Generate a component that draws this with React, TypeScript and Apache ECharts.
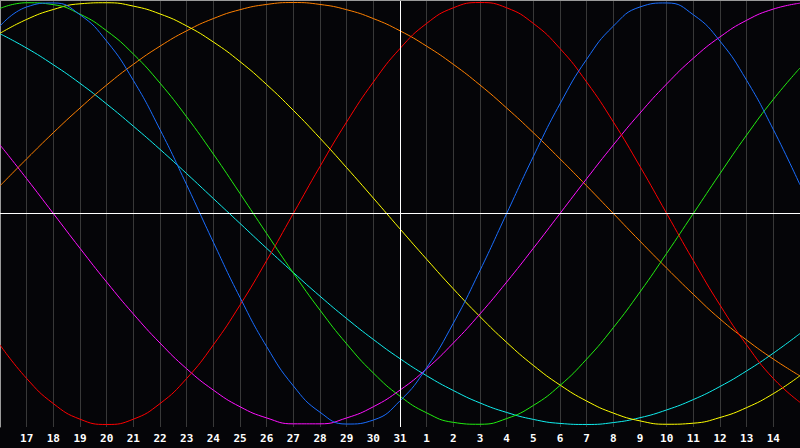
import React, { useEffect, useRef } from "react";
import * as echarts from "echarts";

const days = [
  "16", "17", "18", "19", "20", "21", "22", "23", "24", "25", "26", "27", "28", "29", "30", "31",
  "1", "2", "3", "4", "5", "6", "7", "8", "9", "10", "11", "12", "13", "14", "15",
];

const red = [
  -0.623, -0.782, -0.901, -0.975, -1.0, -0.975, -0.901, -0.782, -0.623, -0.434, -0.223, 0.0,
  0.223, 0.434, 0.623, 0.782, 0.901, 0.975, 1.0, 0.975, 0.901, 0.782, 0.623, 0.434, 0.223, 0.0,
  -0.223, -0.434, -0.623, -0.782, -0.895,
];
const orange = [
  0.131, 0.259, 0.383, 0.5, 0.609, 0.707, 0.793, 0.866, 0.924, 0.966, 0.991, 1.0, 0.991, 0.966,
  0.924, 0.866, 0.793, 0.707, 0.609, 0.5, 0.383, 0.259, 0.131, 0.0, -0.131, -0.259, -0.383, -0.5,
  -0.6, -0.69, -0.77,
];
const yellow = [
  0.854, 0.92, 0.967, 0.994, 0.999, 0.983, 0.946, 0.889, 0.813, 0.72, 0.611, 0.489, 0.357, 0.217,
  0.073, -0.073, -0.217, -0.357, -0.489, -0.611, -0.72, -0.813, -0.889, -0.946, -0.983, -0.999,
  -0.994, -0.967, -0.92, -0.854, -0.769,
];
const green = [
  0.972, 0.999, 0.99, 0.945, 0.866, 0.756, 0.618, 0.458, 0.282, 0.095, -0.095, -0.282, -0.458,
  -0.618, -0.756, -0.866, -0.945, -0.99, -0.999, -0.972, -0.91, -0.815, -0.69, -0.541, -0.372,
  -0.189, 0.0, 0.189, 0.372, 0.541, 0.69,
];
const cyan = [
  0.852, 0.784, 0.705, 0.617, 0.519, 0.414, 0.304, 0.189, 0.071, -0.047, -0.165, -0.28, -0.392,
  -0.498, -0.597, -0.688, -0.769, -0.839, -0.898, -0.943, -0.976, -0.995, -1.0, -0.991, -0.968,
  -0.931, -0.882, -0.82, -0.746, -0.662, -0.569,
];
const blue = [
  0.888, 0.979, 0.998, 0.942, 0.817, 0.631, 0.398, 0.136, -0.136, -0.398, -0.631, -0.817, -0.942,
  -0.998, -0.979, -0.888, -0.731, -0.52, -0.27, 0.0, 0.27, 0.52, 0.731, 0.888, 0.979, 0.998,
  0.942, 0.817, 0.631, 0.398, 0.136,
];
const magenta = [
  0.325, 0.165, 0.0, -0.165, -0.325, -0.476, -0.614, -0.736, -0.837, -0.916, -0.969, -0.997,
  -0.997, -0.969, -0.916, -0.837, -0.736, -0.614, -0.476, -0.325, -0.165, 0.0, 0.165, 0.325,
  0.476, 0.614, 0.736, 0.837, 0.916, 0.969, 0.997,
];

const todayIndex = 15;

const curves: { name: string; data: number[]; color: string }[] = [
  { name: "cyan", data: cyan, color: "#11eeee" },
  { name: "orange", data: orange, color: "#ff8000" },
  { name: "yellow", data: yellow, color: "#ffff00" },
  { name: "green", data: green, color: "#22ee11" },
  { name: "magenta", data: magenta, color: "#ff11ff" },
  { name: "red", data: red, color: "#ff0000" },
  { name: "blue", data: blue, color: "#1a6eff" },
];

export default function App() {
  const ref = useRef<HTMLDivElement>(null);

  useEffect(() => {
    if (!ref.current) return;
    const chart = echarts.init(ref.current, undefined, { renderer: "svg" });
    const series: any[] = curves.map((c) => ({
      type: "line",
      name: c.name,
      data: c.data,
      smooth: 0.5,
      symbol: "none",
      lineStyle: { color: c.color, width: 1 },
      itemStyle: { color: c.color },
      z: 3,
    }));
    series.push({
      type: "line",
      name: "marks",
      data: [],
      symbol: "none",
      z: 2,
      markLine: {
        silent: true,
        symbol: "none",
        label: { show: false },
        lineStyle: { color: "#ffffff", width: 1, type: "solid" },
        data: [{ xAxis: todayIndex }, { yAxis: 0 }],
      },
    });
    const lastIndex = days.length - 1;
    chart.setOption({
      animation: false,
      backgroundColor: "#050508",
      grid: {
        left: 0,
        right: 0,
        top: 0,
        bottom: 21,
        containLabel: false,
        outerBoundsMode: "none",
      },
      xAxis: {
        type: "category",
        data: days,
        boundaryGap: false,
        axisLine: { show: true, lineStyle: { color: "#9a9a9a", width: 1 } },
        axisTick: { show: false },
        splitLine: { show: true, interval: 0, lineStyle: { color: "#383838", width: 1 } },
        axisLabel: {
          interval: 0,
          hideOverlap: false,
          color: "#ffffff",
          fontFamily: "DejaVu Sans Mono",
          fontWeight: "bold",
          fontSize: 11,
          margin: 6,
          formatter: (v: string, i: number) => (i === 0 || i === lastIndex ? "" : v),
        },
      },
      yAxis: {
        type: "value",
        min: -1.012,
        max: 1.012,
        axisLine: { show: true, lineStyle: { color: "#9a9a9a", width: 1 } },
        axisTick: { show: false },
        axisLabel: { show: false },
        splitLine: { show: false },
      },
      graphic: [
        {
          type: "line",
          shape: { x1: 0, y1: 0.5, x2: 800, y2: 0.5 },
          style: { stroke: "#9a9a9a", lineWidth: 1 },
          z: 10,
        },
      ],
      series,
    });
    return () => chart.dispose();
  }, []);

  return (
    <div
      ref={ref}
      style={{ position: "fixed", left: 0, top: 0, width: 800, height: 448 }}
    />
  );
}
